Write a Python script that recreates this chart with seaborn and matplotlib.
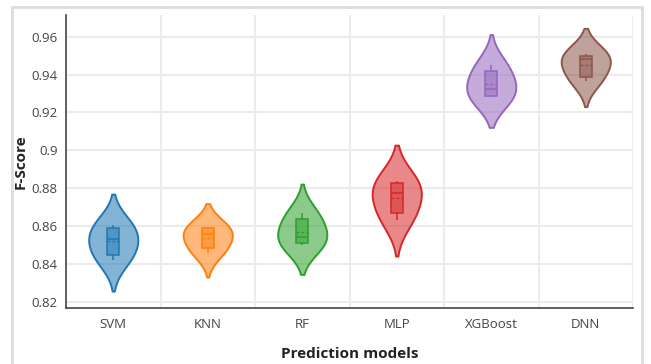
import numpy as np
import pandas as pd
import matplotlib
matplotlib.use("Agg")
import matplotlib.pyplot as plt
import seaborn as sns
from matplotlib.colors import to_rgba
from matplotlib.patches import Rectangle

# --- Data (fold F-scores) ---
models = ["SVM", "KNN", "RF", "MLP", "XGBoost", "DNN"]
svm_scores = [0.8420, 0.8445, 0.8445, 0.8455, 0.8520, 0.8538, 0.8580, 0.8591, 0.8600, 0.8605]
knn_scores = [0.8456, 0.8470, 0.8478, 0.8494, 0.8550, 0.8562, 0.8584, 0.8590, 0.8592, 0.8593]
rf_scores = [0.8499, 0.8505, 0.8509, 0.8517, 0.8535, 0.8551, 0.8630, 0.8643, 0.8655, 0.8667]
mlp_scores = [0.8631, 0.8645, 0.8662, 0.8682, 0.8770, 0.8782, 0.8822, 0.8826, 0.8832, 0.8838]
xgb_scores = [0.9283, 0.9285, 0.9287, 0.9288, 0.9300, 0.9344, 0.9410, 0.9420, 0.9447, 0.9450]
dnn_scores = [0.9366, 0.9375, 0.9385, 0.9401, 0.9476, 0.9484, 0.9497, 0.9502, 0.9506, 0.9509]
y_ticks = [0.82, 0.84, 0.86, 0.88, 0.9, 0.92, 0.94, 0.96]
y_tick_labels = ["0.82", "0.84", "0.86", "0.88", "0.9", "0.92", "0.94", "0.96"]

colors = ["#1f77b4", "#ff7f0e", "#2ca02c", "#d62728", "#9467bd", "#8c564b"]

all_scores = [svm_scores, knn_scores, rf_scores, mlp_scores, xgb_scores, dnn_scores]
df = pd.DataFrame({
    "model": np.repeat(models, [len(s) for s in all_scores]),
    "score": np.concatenate(all_scores),
})

sns.set_theme(style="white")
plt.rcParams["font.family"] = ["Open Sans", "DejaVu Sans"]

fig = plt.figure(figsize=(6.51, 3.64), dpi=100)
ax = fig.add_axes([66 / 651, 1 - 308 / 364, (633 - 66) / 651, (308 - 15) / 364])

ax.set_axisbelow(True)
sns.violinplot(
    data=df, x="model", y="score", hue="model", order=models, hue_order=models,
    palette=colors, inner=None, bw_method=1.12, cut=2, density_norm="width",
    width=0.52, linewidth=1.4, saturation=1, legend=False, ax=ax,
)
for coll, c in zip(ax.collections, colors):
    coll.set_facecolor(to_rgba(c, 0.55))
    coll.set_edgecolor(c)
    coll.set_linewidth(1.4)

sns.boxplot(
    data=df, x="model", y="score", hue="model", order=models, hue_order=models,
    palette=colors, width=0.13, showcaps=False, showfliers=False, showmeans=True,
    meanline=True, saturation=1, linewidth=1.1, legend=False, ax=ax,
)
for cont, c in zip(ax.containers, colors):
    for b in cont.boxes:
        b.set_facecolor(to_rgba(c, 0.5))
        b.set_edgecolor(c)
    for ln in list(cont.whiskers) + list(cont.medians):
        ln.set_color(c)
        ln.set_linewidth(1.1)
    for ln in cont.means:
        ln.set_color(c)
        ln.set_linestyle((0, (2, 1.5)))
        ln.set_linewidth(1.0)

# axes styling
ax.set_xlim(-0.5, 5.5)
ax.set_ylim(0.8167, 0.9715)
ax.set_yticks(y_ticks)
ax.set_yticklabels(y_tick_labels)
ax.set_xticks(range(len(models)))
ax.set_xticks(np.arange(-0.5, 6, 1), minor=True)
ax.tick_params(axis="x", which="major", length=0, pad=7, labelsize=9.5, labelcolor="#444444")
ax.tick_params(axis="x", which="minor", length=4, width=1, color="#444444", direction="out")
ax.tick_params(axis="y", length=4, width=1, color="#444444", direction="out",
               labelsize=9.5, labelcolor="#444444", pad=2)
ax.grid(False)
ax.grid(True, axis="y", which="major", color="#ebebeb", lw=1.5)
ax.grid(True, axis="x", which="minor", color="#ebebeb", lw=1.5)
for side in ["top", "right"]:
    ax.spines[side].set_visible(False)
for side in ["left", "bottom"]:
    ax.spines[side].set_color("#444444")
    ax.spines[side].set_linewidth(1.2)

ax.set_xlabel("Prediction models", fontsize=11, fontweight="bold", color="#222222", labelpad=12)
ax.set_ylabel("F-Score", fontsize=11, fontweight="bold", color="#222222")
ax.yaxis.set_label_coords((28 - 66) / 567, 0.5)

# outer frame
fig.add_artist(Rectangle((11.5 / 651, -0.1), (641.7 - 11.5) / 651, 1.1 - 7.3 / 364,
                         transform=fig.transFigure, fill=False, ec="#dddddd", lw=2))

fig.savefig("out.png", dpi=100)
